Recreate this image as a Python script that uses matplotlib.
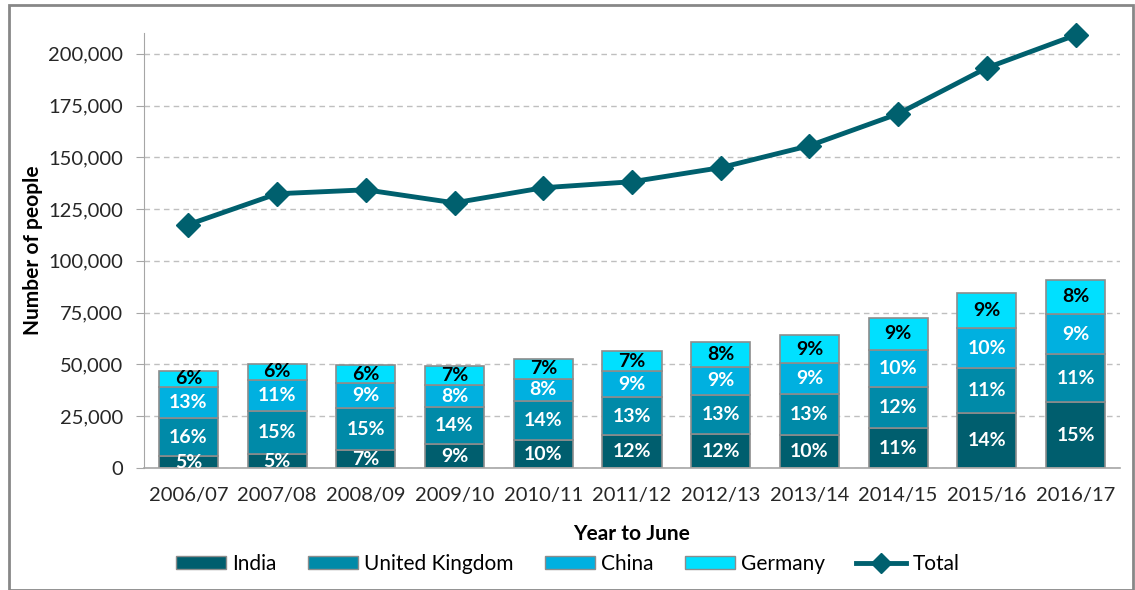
import matplotlib
matplotlib.use("Agg")
import matplotlib.pyplot as plt
from matplotlib.patches import Rectangle, Patch
from matplotlib.lines import Line2D
from matplotlib.ticker import FuncFormatter
import numpy as np

plt.rcParams['font.family'] = ['Lato', 'DejaVu Sans']

#%% Data
years = ['2006/07', '2007/08', '2008/09', '2009/10', '2010/11', '2011/12',
         '2012/13', '2013/14', '2014/15', '2015/16', '2016/17']

india   = [5600, 6600, 8600, 11400, 13500, 16000, 16200, 15900, 19200, 26700, 31700]
uk      = [18400, 20900, 20400, 17900, 18900, 18100, 19200, 19800, 20100, 21600, 23200]
china   = [15300, 15000, 11800, 10900, 10800, 12900, 13500, 14900, 17700, 19200, 19500]
germany = [7500, 7700, 9000, 8900, 9500, 9300, 11800, 13500, 15500, 16900, 16400]
total   = [117500, 132400, 134300, 128000, 135300, 138200, 145000, 155600, 171000, 193200, 209000]

pct_india   = [5, 5, 7, 9, 10, 12, 12, 10, 11, 14, 15]
pct_uk      = [16, 15, 15, 14, 14, 13, 13, 13, 12, 11, 11]
pct_china   = [13, 11, 9, 8, 8, 9, 9, 9, 10, 10, 9]
pct_germany = [6, 6, 6, 7, 7, 7, 8, 9, 9, 9, 8]

#%% Styles
col_india = '#005E6E'
col_uk = '#008AA8'
col_china = '#00B0E0'
col_germany = '#00E0FF'
col_total = '#00606E'
edge = '#8C8C8C'

fig = plt.figure(figsize=(11.35, 5.9), dpi=100)
ax = fig.add_axes([144/1135, 1-468/590, (1120-144)/1135, (468-33)/590])

x = np.arange(len(years))
w = 0.665
series = [(india, pct_india, col_india, 'white', 'India'),
          (uk, pct_uk, col_uk, 'white', 'United Kingdom'),
          (china, pct_china, col_china, 'white', 'China'),
          (germany, pct_germany, col_germany, 'black', 'Germany')]

bottom = np.zeros(len(years))
for vals, pcts, col, tcol, name in series:
    vals = np.array(vals, dtype=float)
    ax.bar(x, vals, w, bottom=bottom, color=col, edgecolor=edge, linewidth=1.2, zorder=2)
    for xi, b, v, p in zip(x, bottom, vals, pcts):
        ax.text(xi, b + v/2, f'{p}%', ha='center', va='center', color=tcol,
                fontsize=14, fontweight='bold', zorder=3)
    bottom += vals

ax.plot(x, total, color=col_total, lw=3.5, marker='D', markersize=12,
        zorder=4, clip_on=False)

ax.set_xlim(-0.5, 10.5)
ax.set_ylim(0, 210000)
ax.set_yticks(np.arange(0, 200001, 25000))
ax.yaxis.set_major_formatter(FuncFormatter(lambda v, p: f'{int(v):,}'))
ax.set_xticks(x)
ax.set_xticklabels(years)
ax.tick_params(axis='y', labelsize=14.5, length=6, color='#A6A6A6', pad=9, labelcolor='#262626')
ax.tick_params(axis='x', labelsize=14.5, length=0, pad=14, labelcolor='#262626')

ax.grid(axis='y', linestyle=(0, (4, 3)), color='#BFBFBF', lw=1, zorder=0)
for s in ['top', 'right']:
    ax.spines[s].set_visible(False)
ax.spines['left'].set_color('#A6A6A6')
ax.spines['bottom'].set_color('#A6A6A6')
ax.spines['bottom'].set_linewidth(1.2)

ax.set_ylabel('Number of people', fontsize=15, fontweight='bold', labelpad=4)
ax.set_xlabel('Year to June', fontsize=15, fontweight='bold', labelpad=14)

handles = [Patch(facecolor=c, edgecolor=edge, label=n) for _, _, c, _, n in series]
handles.append(Line2D([0], [0], color=col_total, lw=3.5, marker='D', markersize=10, label='Total'))
fig.legend(handles=handles, loc='center', bbox_to_anchor=(0.5, 1-564/590), ncol=5,
           frameon=False, fontsize=15, handlelength=2.4, handleheight=0.6,
           handletextpad=0.3, columnspacing=1.5)

# outer chart border
fig.patches.append(Rectangle((9/1135, 0), 1124/1135, 1-5/590, transform=fig.transFigure,
                             fill=False, edgecolor='#878787', lw=2))

fig.savefig('out.png', dpi=100)
